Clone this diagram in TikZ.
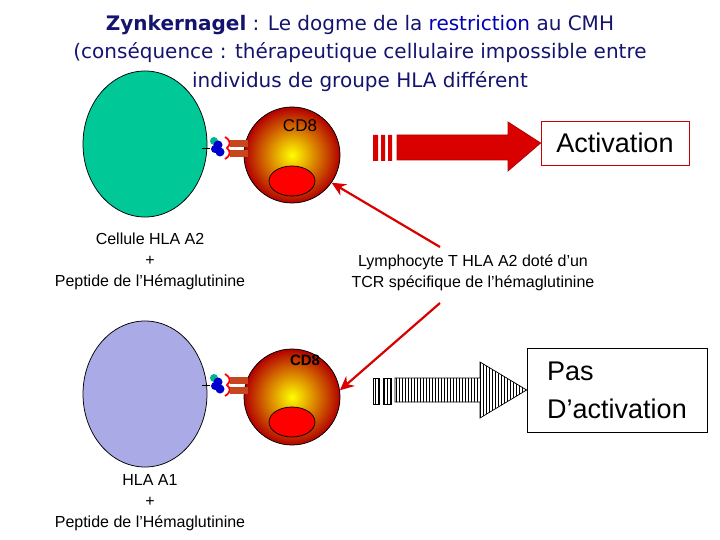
\documentclass[tikz,border=0pt]{standalone}
\usepackage{fontspec}
\setmainfont{Liberation Sans}
\newfontfamily\titlefont{DejaVu Sans}
\usetikzlibrary{positioning,shapes.geometric,arrows.meta,patterns}
\definecolor{cellgreen}{RGB}{0,200,150}
\definecolor{cellmauve}{RGB}{170,170,230}
\definecolor{navy}{RGB}{20,20,110}
\definecolor{tcrbrown}{RGB}{200,70,30}
\tikzset{every picture/.style={line width=0.75pt}}
\tikzset{
  apc/.style={ellipse,draw,minimum width=124pt,minimum height=146pt},
  tcell/.style={circle,draw,minimum size=96pt,inner color=yellow,outer color=red!70!black},
  nucleus/.style={ellipse,draw,fill=red,minimum width=46pt,minimum height=30pt},
  celltext/.style={align=center,font=\fontsize{16}{21}\selectfont},
  redarrow/.style={draw=red!85!black,line width=2.2pt,-{Stealth[length=14pt,width=13pt]}}
}
\newcommand{\synapse}[1]{%
  \draw (#1) ++(-3,0) -- ++(8,0);
  \fill[cellgreen!70!teal] (#1) ++(9,-7) circle (4);
  \fill[blue!80!black] (#1) ++(13,-3) circle (4.5) ++(2,7) circle (4.5) ++(-5,-3) circle (4);
  \draw[red,line width=1.8pt] (#1) ++(20,-11) .. controls ++(6,4) and ++(4,-4) .. ++(2,11) .. controls ++(4,4) and ++(6,-4) .. ++(-2,11);
  \fill[tcrbrown] (#1) ++(25,-8) rectangle ++(18,7);
  \fill[tcrbrown] (#1) ++(25,2) rectangle ++(18,7);
}
\begin{document}
\begin{tikzpicture}[x=1pt,y=-1pt]
    \useasboundingbox (0,0) rectangle (720,540);

    % title
    \node (title) at (360,53) [align=center,text=navy,font=\titlefont\fontsize{20}{28.5}\selectfont]
      {\textbf{Zynkernagel} : Le dogme de la \textcolor{blue!70!black}{restriction} au CMH\\
       (conséquence : thérapeutique cellulaire impossible entre\\
       individus de groupe HLA différent};

    % cells
    \node (apcA) at (145,144) [apc,fill=cellgreen] {};
    \node (apcB) at (145,394) [apc,fill=cellmauve] {};
    \node (tA) at (292,155) [tcell] {};
    \node (tB) at (292,397) [tcell] {};
    \node (nucA) at (292,181) [nucleus] {};
    \node (nucB) at (292,422) [nucleus] {};
    \node at (300,126) [font=\fontsize{17}{19}\selectfont] {CD8};
    \node at (305,360) [font=\bfseries\fontsize{15}{17}\selectfont] {CD8};

    \coordinate (synA) at (205,148);
    \coordinate (synB) at (205,385);
    \synapse{synA}
    \synapse{synB}

    % labels
    \node (lblA) at (150,261) [celltext] {Cellule HLA A2\\+\\Peptide de l'Hémaglutinine};
    \node (lblB) at (150,503) [celltext] {HLA A1\\+\\Peptide de l'Hémaglutinine};
    \node (lblT) at (473,273) [celltext] {Lymphocyte T HLA A2 doté d’un\\TCR spécifique de l'hémaglutinine};

    \draw[redarrow] (440,247) -- (tA.-35);
    \draw[redarrow] (440,303) -- (tB.8);

    % activation
    \node (act) at (615,143) [draw=red!80!black,minimum width=148pt,minimum height=44pt,font=\fontsize{27}{30}\selectfont] {Activation};
    \fill[red!85!black] (373,135) rectangle (378,161) (381,135) rectangle (385,161) (388,135) rectangle (392,161);
    \draw[red!70!black,fill=red!85!black] (397,135) -- (508,135) -- (508,122) -- (act.west) -- (508,171) -- (508,160) -- (397,160) -- cycle;

    % pas d'activation
    \node (noact) at (617,390) [draw,minimum width=180pt,minimum height=84pt,align=left,font=\fontsize{27}{38}\selectfont] {Pas\\D'activation};
    \draw[pattern=vertical lines] (373,378) rectangle (379,404) (383,378) rectangle (391,404);
    \draw[pattern=vertical lines] (395,378) -- (480,378) -- (480,362) -- (noact.west) -- (480,418) -- (480,402) -- (395,402) -- cycle;
\end{tikzpicture}
\end{document}
